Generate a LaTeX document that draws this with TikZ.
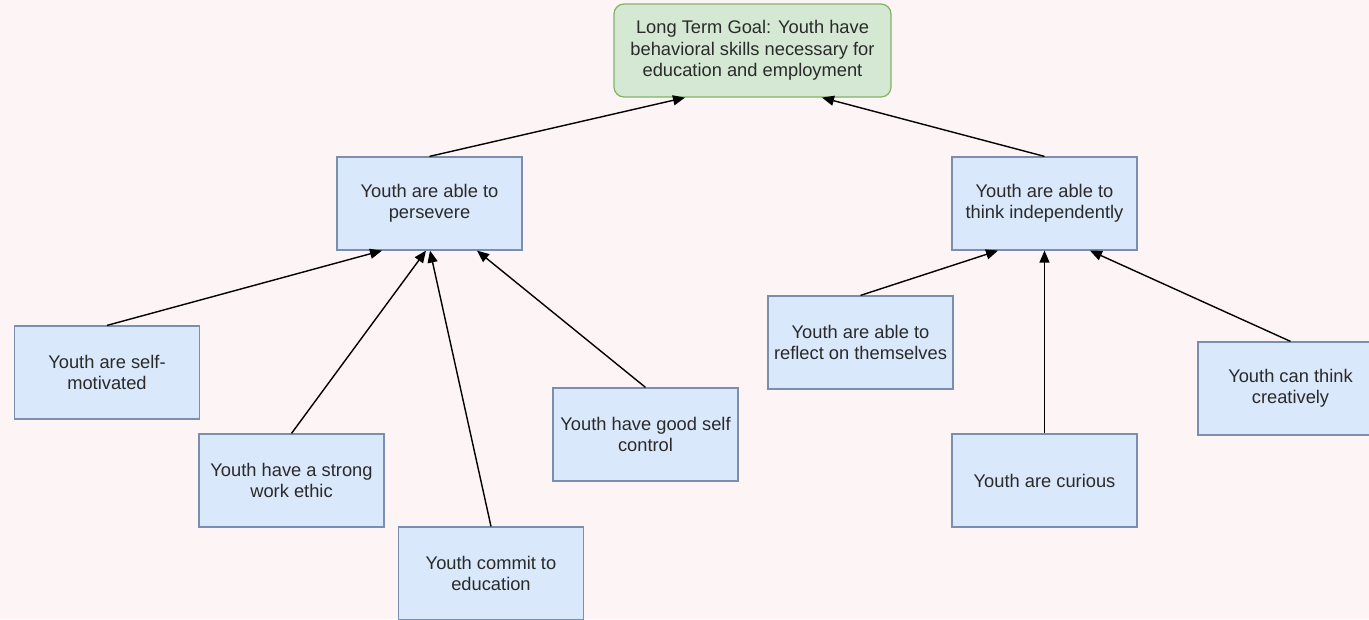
\documentclass[tikz,border=0pt]{standalone}
\usepackage{fontspec}
\setmainfont{Liberation Sans}
\usetikzlibrary{arrows.meta}
\definecolor{bgcol}{HTML}{FDF5F5}
\definecolor{goalfill}{HTML}{D5E8D4}
\definecolor{goalline}{HTML}{82B366}
\definecolor{boxfill}{HTML}{DAE8FC}
\definecolor{boxline}{HTML}{7A8FAE}
\definecolor{txt}{HTML}{2A2A2A}
\tikzset{
  outcome/.style={draw=boxline, fill=boxfill, line width=1.2pt, minimum width=185pt,
    minimum height=93pt, inner sep=0pt, align=center, text=txt,
    font=\fontsize{18.3}{21.5}\selectfont},
  goalbox/.style={outcome, draw=goalline, fill=goalfill, rounded corners=10pt,
    minimum width=277pt},
  link/.style={line width=1.4pt, -{Triangle[length=12pt,width=10pt]}}
}
\begin{document}
\begin{tikzpicture}[x=1pt,y=-1pt]
\fill[bgcol] (0,0) rectangle (1369,619);
\useasboundingbox (0,0) rectangle (1369,619);
\clip (0,0) rectangle (1369,619);

\node[goalbox] (goal) at (752.5,50.5) {Long Term Goal: Youth have\\behavioral skills necessary for\\education and employment};

\node[outcome] (persevere) at (429.5,203.5) {Youth are able to\\persevere};
\node[outcome] (think) at (1044.5,203.5) {Youth are able to\\think independently};

\node[outcome] (selfmot) at (107,372.5) {Youth are self-\\motivated};
\node[outcome] (workethic) at (291.5,480.5) {Youth have a strong\\work ethic};
\node[outcome] (commit) at (491,573.5) {Youth commit to\\education};
\node[outcome] (selfctrl) at (645.5,434.5) {Youth have good self\\control};

\node[outcome] (reflect) at (860.5,342.5) {Youth are able to\\reflect on themselves};
\node[outcome] (curious) at (1044.5,480.5) {Youth are curious};
\node[outcome] (creative) at (1290.5,388.5) {Youth can think\\creatively};

\draw[link] (persevere.north) -- ([xshift=-67.5pt]goal.south);
\draw[link] (think.north) -- ([xshift=69.5pt]goal.south);

\draw[link] (selfmot.north) -- ([xshift=-47.5pt]persevere.south);
\draw[link] (workethic.north) -- ([xshift=-3.5pt]persevere.south);
\draw[link] (commit.north) -- ([xshift=0.5pt]persevere.south);
\draw[link] (selfctrl.north) -- ([xshift=47.5pt]persevere.south);

\draw[link] (reflect.north) -- ([xshift=-46.5pt]think.south);
\draw[link] (curious.north) -- (think.south);
\draw[link] (creative.north) -- ([xshift=45.5pt]think.south);
\end{tikzpicture}
\end{document}
